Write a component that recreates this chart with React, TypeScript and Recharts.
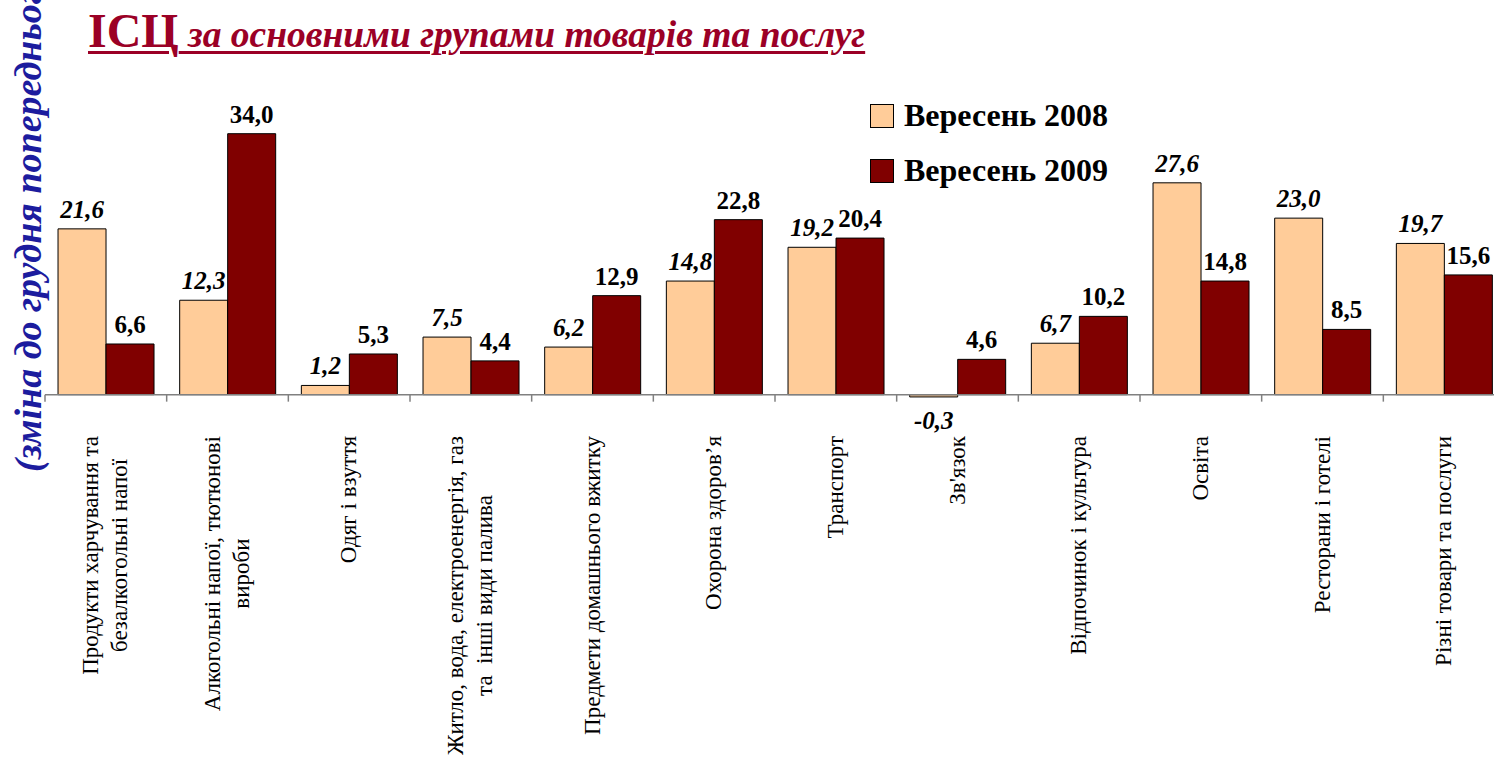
import React from "react";
import { Bar, BarChart, LabelList, Legend, ReferenceLine, XAxis, YAxis } from "recharts";

const CATEGORIES = [
  "Продукти харчування та\nбезалкогольні напої",
  "Алкогольні напої, тютюнові\nвироби",
  "Одяг і взуття",
  "Житло, вода, електроенергія, газ\nта  інші види палива",
  "Предмети домашнього вжитку",
  "Охорона здоров’я",
  "Транспорт",
  "Зв'язок",
  "Відпочинок і культура",
  "Освіта",
  "Ресторани і готелі",
  "Різні товари та послуги",
];
const SEP_2008 = [21.6, 12.3, 1.2, 7.5, 6.2, 14.8, 19.2, -0.3, 6.7, 27.6, 23.0, 19.7];
const SEP_2009 = [6.6, 34.0, 5.3, 4.4, 12.9, 22.8, 20.4, 4.6, 10.2, 14.8, 8.5, 15.6];
const SERIES_NAMES = ["Вересень 2008", "Вересень 2009"];

const data = CATEGORIES.map((name, i) => ({ name, v2008: SEP_2008[i], v2009: SEP_2009[i] }));

const SERIF = '"Liberation Serif", "Times New Roman", serif';
const TICK_FONT = 23;
const LINE_GAP = 29;

let ctx: CanvasRenderingContext2D | null = null;
function measure(s: string): number {
  if (!ctx && typeof document !== "undefined") ctx = document.createElement("canvas").getContext("2d");
  if (!ctx) return s.length * 10;
  ctx.font = `${TICK_FONT}px "Liberation Serif"`;
  return ctx.measureText(s).width;
}

const fmt = (v: number) => v.toFixed(1).replace(".", ",");

function CategoryTick(props: any) {
  const { x, y, payload } = props;
  const lines = String(payload.value).split("\n");
  const maxW = Math.max(...lines.map(measure));
  const top = y + 26;
  const mid = top + maxW / 2;
  const n = lines.length;
  return (
    <g>
      {lines.map((ln, i) => (
        <text
          key={i}
          transform={`translate(${x + (i - (n - 1) / 2) * LINE_GAP + 7}, ${mid}) rotate(-90)`}
          textAnchor="middle"
          fill="#000"
          style={{ whiteSpace: "pre", fontFamily: SERIF, fontSize: TICK_FONT }}
        >
          {ln}
        </text>
      ))}
    </g>
  );
}

function ZeroAxis(props: any) {
  const { x1, y1, x2 } = props;
  const band = (x2 - x1) / CATEGORIES.length;
  return (
    <g>
      <line x1={x1} y1={y1} x2={x2} y2={y1} stroke="#808080" strokeWidth={1.5} />
      {CATEGORIES.map((_, i) => (
        <line key={i} x1={x1 + i * band} x2={x1 + i * band} y1={y1} y2={y1 + 7} stroke="#808080" strokeWidth={1.5} />
      ))}
    </g>
  );
}

const makeLabel = (italic: boolean) => (props: any) => {
  const x = Number(props.x);
  const y = Number(props.y);
  const w = Number(props.width);
  const h = Number(props.height);
  const v = Number(props.value);
  const top = Math.min(y, y + h);
  const bottom = Math.max(y, y + h);
  return (
    <text
      x={x + w / 2}
      y={v < 0 ? bottom + 32 : top - 11}
      textAnchor="middle"
      fill="#000"
      style={{
        fontFamily: SERIF,
        fontSize: 25,
        fontWeight: "bold",
        fontStyle: italic ? "italic" : "normal",
      }}
    >
      {fmt(v)}
    </text>
  );
};

function LegendBox({ payload }: any) {
  return (
    <div>
      {(payload || []).map((p: any) => (
        <div key={p.value} style={{ display: "flex", alignItems: "center", height: 55 }}>
          <span
            style={{
              width: 22,
              height: 22,
              background: p.color,
              border: "1px solid #000",
              marginRight: 10,
              display: "inline-block",
            }}
          />
          <span style={{ fontFamily: SERIF, fontSize: 32, fontWeight: "bold", color: "#000" }}>{p.value}</span>
        </div>
      ))}
    </div>
  );
}

export default function App() {
  return (
    <div
      style={{
        position: "absolute",
        left: 0,
        top: 0,
        width: 1494,
        height: 767,
        overflow: "hidden",
        background: "#fff",
      }}
    >
      <div
        style={{
          position: "absolute",
          left: 88,
          top: 1,
          lineHeight: "60px",
          whiteSpace: "nowrap",
          color: "#9b0026",
          fontFamily: SERIF,
          fontWeight: "bold",
          textDecoration: "underline",
          textDecorationThickness: 3,
          textUnderlineOffset: 4,
        }}
      >
        <span style={{ fontSize: 48 }}>ІСЦ</span>
        <span style={{ fontSize: 37.5, fontStyle: "italic" }}> за основними групами товарів та послуг</span>
      </div>
      <div
        style={{
          position: "absolute",
          left: 5,
          top: 472,
          transform: "rotate(-90deg)",
          transformOrigin: "0 0",
          whiteSpace: "nowrap",
          color: "#1c1c9e",
          fontFamily: SERIF,
          fontWeight: "bold",
          fontStyle: "italic",
          fontSize: 38,
          lineHeight: "46px",
        }}
      >
        (зміна до грудня попереднього року)
      </div>
      <div style={{ position: "absolute", left: 0, top: 0 }}>
        <BarChart
          width={1520}
          height={767}
          data={data}
          margin={{ top: 103, right: 15, left: 45, bottom: 0 }}
          barCategoryGap="10.7%"
          barGap={0}
        >
          <XAxis
            dataKey="name"
            height={357}
            axisLine={false}
            tickLine={false}
            tickSize={0}
            tickMargin={0}
            interval={0}
            tick={<CategoryTick />}
          />
          <YAxis hide domain={[-2, 38]} />
          <ReferenceLine y={0} shape={(p: any) => <ZeroAxis {...p} />} />
          <Legend
            layout="vertical"
            align="center"
            verticalAlign="middle"
            content={<LegendBox />}
            wrapperStyle={{ position: "absolute", left: 870, top: 88, width: 340 }}
          />
          <Bar dataKey="v2008" name={SERIES_NAMES[0]} fill="#ffcc99" stroke="#000" strokeWidth={1} isAnimationActive={false}>
            <LabelList dataKey="v2008" content={makeLabel(true)} />
          </Bar>
          <Bar dataKey="v2009" name={SERIES_NAMES[1]} fill="#800000" stroke="#000" strokeWidth={1} isAnimationActive={false}>
            <LabelList dataKey="v2009" content={makeLabel(false)} />
          </Bar>
        </BarChart>
      </div>
    </div>
  );
}
